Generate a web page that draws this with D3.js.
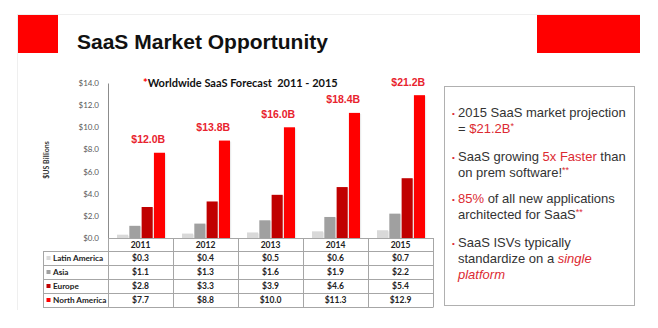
<!DOCTYPE html>
<html><head><meta charset="utf-8">
<script src="https://cdn.jsdelivr.net/npm/d3@7/dist/d3.min.js"></script>
<style>
html,body{margin:0;padding:0;background:#fff;}
svg{display:block;}
</style></head>
<body>
<svg id="c" width="658" height="328"></svg>
<script>
const years = ["2011","2012","2013","2014","2015"];
const seriesNames = ["Latin America","Asia","Europe","North America"];
const latinAmerica = [0.3,0.4,0.5,0.6,0.7];
const asia = [1.1,1.3,1.6,1.9,2.2];
const europe = [2.8,3.3,3.9,4.6,5.4];
const northAmerica = [7.7,8.8,10.0,11.3,12.9];
const totals = ["$12.0B","$13.8B","$16.0B","$18.4B","$21.2B"];
const yTicks = [0,2,4,6,8,10,12,14];
const colors = ["#d9d9d9","#a0a0a0","#c00000","#ff0000"];
const seriesValues = [latinAmerica, asia, europe, northAmerica];

const svg = d3.select("#c");
// slide frame
svg.append("line").attr("x1",17).attr("x2",640).attr("y1",14.5).attr("y2",14.5).attr("stroke","#efefef");
svg.append("line").attr("x1",17.5).attr("x2",17.5).attr("y1",14).attr("y2",310).attr("stroke","#efefef");
// red blocks
svg.append("rect").attr("x",18).attr("y",15).attr("width",40).attr("height",38).attr("fill","#ff0000");
svg.append("rect").attr("x",537).attr("y",15).attr("width",103).attr("height",38).attr("fill","#ff0000");
// title
svg.append("text").attr("x",77).attr("y",49).attr("font-family","Liberation Sans, Arial").attr("font-weight","bold")
  .attr("font-size",21).attr("fill","#111").text("SaaS Market Opportunity");

// scales
const x0 = d3.scaleBand().domain(years).range([108,433]).padding(0);
const x1 = d3.scaleBand().domain(seriesNames).range([9,57]).paddingInner(0.1);
const y = d3.scaleLinear().domain([0,14]).range([238,83]);

// y axis
const yAxis = d3.axisLeft(y).tickValues(yTicks).tickSize(0).tickPadding(9).tickFormat(d=>"$"+d.toFixed(1));
const ga = svg.append("g").attr("transform","translate(108,0)").call(yAxis);
ga.select(".domain").attr("stroke","#8c8c8c");
ga.selectAll("text").attr("font-family","Lato").attr("font-size",8).attr("fill","#595959");
svg.append("text").attr("transform","translate(49,160) rotate(-90)").attr("text-anchor","middle")
  .attr("font-family","Lato").attr("font-weight","bold").attr("font-size",7).attr("fill","#333").text("$US Billions");

// chart title
const ct = svg.append("text").attr("x",143).attr("y",87).attr("font-family","Lato").attr("font-weight","bold").attr("font-size",11).attr("fill","#111");
ct.append("tspan").attr("fill","#ff0000").text("*");
ct.append("tspan").text("Worldwide SaaS Forecast\u00a0 2011 - 2015");

// bars
const gBars = svg.append("g");
years.forEach((yr,i)=>{
  const g = gBars.append("g").attr("transform",`translate(${x0(yr)},0)`);
  seriesNames.forEach((s,j)=>{
    const v = seriesValues[j][i];
    g.append("rect").attr("x",x1(s)+1.2).attr("y",y(v)+1).attr("width",x1.bandwidth()).attr("height",y(0)-y(v)-1)
      .attr("fill","#000").attr("opacity",0.08);
    g.append("rect").attr("x",x1(s)).attr("y",y(v)).attr("width",x1.bandwidth()).attr("height",y(0)-y(v))
      .attr("fill",colors[j]);
  });
  g.append("text").attr("x",x1("Europe")+x1.bandwidth()*0.6).attr("y",y(northAmerica[i])-9.5)
    .attr("text-anchor","middle").attr("font-family","Liberation Sans, Arial").attr("font-weight","bold")
    .attr("font-size",10.5).attr("fill","#e8232e").text(totals[i]);
});

// data table
const rowTop = [238,251,265,279,293,307];
const tbl = svg.append("g");
const lineC = "#a6a6a6";
tbl.append("line").attr("x1",108).attr("x2",433).attr("y1",238.5).attr("y2",238.5).attr("stroke",lineC);
for(let r=1;r<rowTop.length;r++){
  tbl.append("line").attr("x1",43).attr("x2",433).attr("y1",rowTop[r]+0.5).attr("y2",rowTop[r]+0.5).attr("stroke",lineC);
}
tbl.append("line").attr("x1",43.5).attr("x2",43.5).attr("y1",251).attr("y2",307.5).attr("stroke",lineC);
years.forEach(yr=>{
  tbl.append("line").attr("x1",x0(yr)+0.5).attr("x2",x0(yr)+0.5).attr("y1",238).attr("y2",307.5).attr("stroke",lineC);
});
tbl.append("line").attr("x1",433.5).attr("x2",433.5).attr("y1",238).attr("y2",307.5).attr("stroke",lineC);
years.forEach(yr=>{
  tbl.append("text").attr("x",x0(yr)+x0.bandwidth()/2).attr("y",248).attr("text-anchor","middle")
    .attr("font-family","Lato").attr("font-weight","bold").attr("font-size",8.5).attr("fill","#222").text(yr);
});
seriesNames.forEach((s,j)=>{
  const cy = (rowTop[j+1]+rowTop[j+2])/2;
  tbl.append("rect").attr("x",46.5).attr("y",cy-2).attr("width",4).attr("height",4).attr("fill",colors[j]);
  tbl.append("text").attr("x",53).attr("y",cy+3).attr("font-family","Lato").attr("font-weight","bold")
    .attr("font-size",8.2).attr("fill","#222").text(s);
  years.forEach((yr,i)=>{
    tbl.append("text").attr("x",x0(yr)+x0.bandwidth()/2).attr("y",cy+3).attr("text-anchor","middle")
      .attr("font-family","Lato").attr("font-weight","bold").attr("font-size",8.5).attr("fill","#222")
      .text("$"+seriesValues[j][i].toFixed(1));
  });
});

// right text box
svg.append("rect").attr("x",444.5).attr("y",86.5).attr("width",190).attr("height",219).attr("fill","#fff").attr("stroke","#b0b0b0");
const red = "#dc2a32", dark = "#333";
const paras = [
  [[ [["2015 SaaS market projection",dark]] , [["= ",dark],["$21.2B",red],["*",red,true]] ], 117],
  [[ [["SaaS growing ",dark],["5x Faster",red],[" than",dark]], [["on prem software!",dark],["**",red,true]] ], 161],
  [[ [["85%",red],[" of all new applications",dark]], [["architected for SaaS",dark],["**",red,true]] ], 203],
  [[ [["SaaS ISVs typically",dark]], [["standardize on a ",dark],["single",red,false,true]], [["platform",red,false,true]] ], 247]
];
const tb = svg.append("g").attr("font-family","Liberation Sans, Arial").attr("font-size",13);
paras.forEach(([lines,base])=>{
  tb.append("text").attr("x",452).attr("y",base-1).attr("font-size",8).attr("fill",red).text("•");
  lines.forEach((segs,li)=>{
    const t = tb.append("text").attr("x",458).attr("y",base+li*15.8).attr("xml:space","preserve");
    segs.forEach(([txt,col,sup,ital])=>{
      const ts = t.append("tspan").attr("fill",col).text(txt);
      if(sup) ts.attr("font-size",9).attr("dy",-4);
      if(ital) ts.attr("font-style","italic");
    });
  });
});
</script>
</body></html>
